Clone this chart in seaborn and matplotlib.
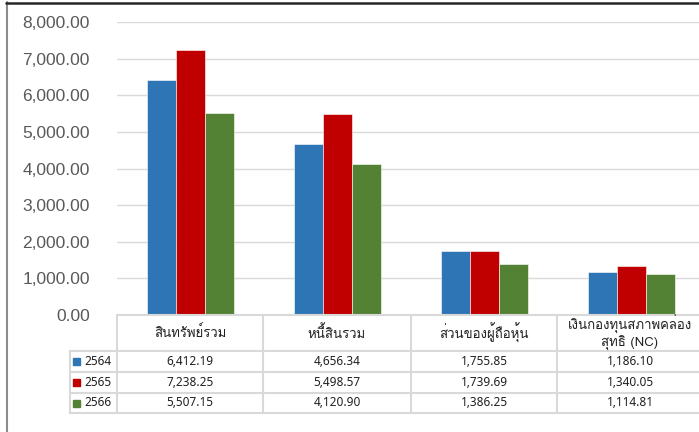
import numpy as np
import pandas as pd
import matplotlib
matplotlib.use("Agg")
import matplotlib.pyplot as plt
import seaborn as sns
from matplotlib import font_manager
from matplotlib.ft2font import FT2Font
from matplotlib.lines import Line2D

items = ["สินทรัพย์รวม", "หนี้สินรวม", "ส่วนของผู้ถือหุ้น", "เงินกองทุนสภาพคล่อง\nสุทธิ (NC)"]
years = ["2564", "2565", "2566"]
v2564 = [6412.19, 4656.34, 1755.85, 1186.10]
v2565 = [7238.25, 5498.57, 1739.69, 1340.05]
v2566 = [5507.15, 4120.90, 1386.25, 1114.81]
colors = ["#2E75B6", "#C00000", "#548235"]


def thai_font():
    # find an installed font that has Thai glyphs
    for f in font_manager.fontManager.ttflist:
        try:
            cm = FT2Font(f.fname).get_charmap()
        except Exception:
            continue
        if 0x0E2A in cm and 0x0E34 in cm:
            return f.name
    return None


sns.set_style("white")
tf = thai_font()
fams = ([tf] if tf else []) + ["Noto Sans", "DejaVu Sans"]
plt.rcParams["font.family"] = fams
num_font = ["Noto Sans", "DejaVu Sans"]

df = pd.DataFrame({
    "item": items * 3,
    "year": sum([[y] * 4 for y in years], []),
    "value": v2564 + v2565 + v2566,
})

W, H = 699, 432
fig = plt.figure(figsize=(W / 100, H / 100), dpi=100)
ax = fig.add_axes([117 / W, 117 / H, 588 / W, 293 / H])

sns.barplot(data=df, x="item", y="value", hue="year", palette=colors,
            width=0.59, saturation=1, edgecolor="white", linewidth=0.4,
            legend=False, ax=ax, zorder=3)

ax.set_xlim(-0.5, 3.5)
ax.set_ylim(0, 8000)
ax.set_yticks(np.arange(0, 8001, 1000))
ax.set_yticklabels([f"{v:,.2f}" for v in np.arange(0, 8001, 1000)],
                   fontfamily=["Liberation Sans", "DejaVu Sans"], fontsize=12.5, color="#595959")
ax.tick_params(axis="y", length=0, pad=19.5)
ax.set_xticks([])
ax.set_xlabel("")
ax.set_ylabel("")
ax.grid(axis="y", color="#d9d9d9", lw=1, zorder=0)
for s in ax.spines.values():
    s.set_visible(False)


def px(x, y):
    return x / W, 1 - y / H


grid_c = "#d9d9d9"
# table lines
for y, x0 in [(315, 117), (351, 70), (372, 70), (393, 70), (413, 70)]:
    fig.add_artist(Line2D([x0 / W, 705 / W], [1 - y / H] * 2, color=grid_c, lw=1.5))
fig.add_artist(Line2D([70 / W] * 2, [1 - 351 / H, 1 - 413 / H], color=grid_c, lw=1.5))
for x in [117, 263, 411, 557]:
    fig.add_artist(Line2D([x / W] * 2, [1 - 315 / H, 1 - 413 / H], color=grid_c, lw=1.5))

col_x = [190, 337, 484, 630]
row_y = [361.5, 382.5, 403]
tcol = "#202020"
for i, it in enumerate(items):
    fig.text(*px(col_x[i], 333), it, ha="center", va="center", fontsize=9.5,
             color=tcol, linespacing=1.15)
for r, vals in enumerate([v2564, v2565, v2566]):
    for i, v in enumerate(vals):
        fig.text(*px(col_x[i], row_y[r]), f"{v:,.2f}", ha="center", va="center",
                 fontsize=8.5, color=tcol, fontfamily=num_font)
    fig.text(*px(84, row_y[r]), years[r], ha="left", va="center", fontsize=8.5,
             color=tcol, fontfamily=num_font)
    fig.patches.append(plt.Rectangle(px(73, row_y[r] + 3.5), 7 / W, 7 / H,
                                     transform=fig.transFigure, figure=fig,
                                     color=colors[r]))

# chart frame
fig.add_artist(Line2D([6.5 / W] * 2, [0, 1 - 2 / H], color="#8c8c8c", lw=1.5))
fig.add_artist(Line2D([6 / W, 1], [1 - 2.5 / H] * 2, color="#262626", lw=1.8))

fig.savefig("out.png", dpi=100)
